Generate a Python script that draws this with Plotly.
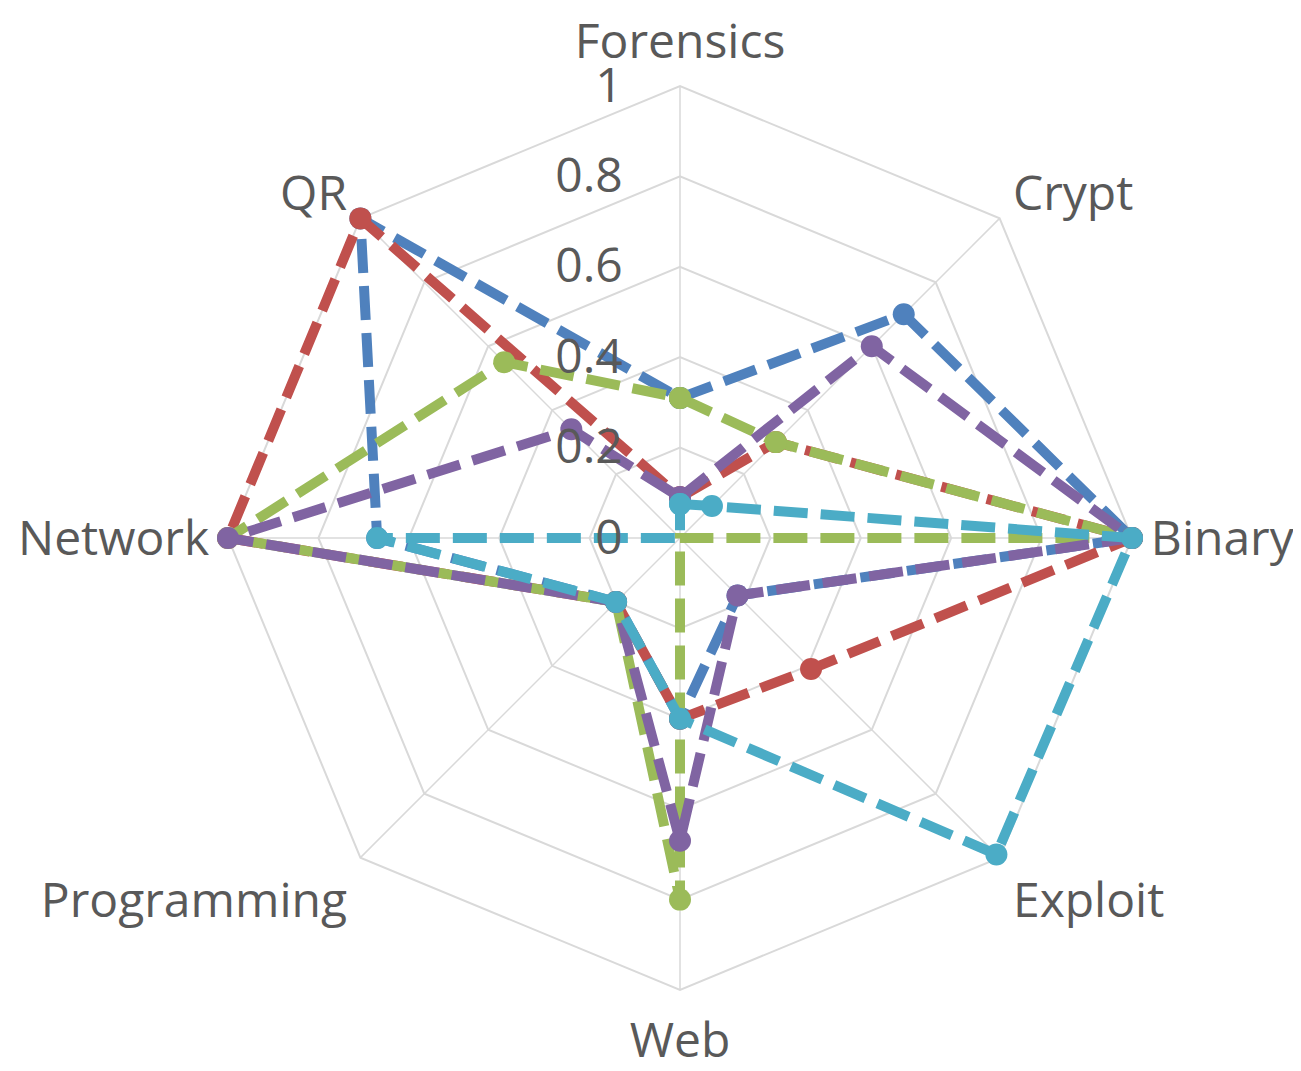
import plotly.graph_objects as go

categories = ["Forensics", "Crypt", "Binary", "Exploit", "Web", "Programming", "Network", "QR"]

series_blue = [0.31, 0.70, 1.0, 0.18, 0.40, 0.20, 0.67, 1.0]
series_red = [0.09, 0.30, 1.0, 0.41, 0.40, 0.20, 1.0, 1.0]
series_green = [0.31, 0.30, 1.0, 0.0, 0.80, 0.20, 1.0, 0.55]
series_purple = [0.09, 0.60, 1.0, 0.18, 0.67, 0.20, 1.0, 0.34]
series_cyan = [0.075, 0.10, 1.0, 0.99, 0.40, 0.20, 0.67, 0.0]

radial_ticks = [0, 0.2, 0.4, 0.6, 0.8, 1]
radial_tick_text = ["0", "0.2", "0.4", "0.6", "0.8", "1"]

colors = ["#4F81BD", "#C0504D", "#9BBB59", "#8064A2", "#4BACC6"]
all_series = [series_blue, series_red, series_green, series_purple, series_cyan]

GRID = "#D9D9D9"
fig = go.Figure()

# spokes from centre to the outer gridline for each category
r_max = radial_ticks[-1]
for cat in categories:
    fig.add_trace(go.Scatterpolar(
        r=[0, r_max], theta=[cat, cat], mode="lines",
        line=dict(color=GRID, width=1.5),
        showlegend=False, hoverinfo="skip",
    ))

for vals, col in zip(all_series, colors):
    fig.add_trace(go.Scatterpolar(
        r=vals + [vals[0]],
        theta=categories + [categories[0]],
        mode="lines+markers",
        line=dict(color=col, width=10, dash="34px,13px"),
        marker=dict(color=col, size=22, symbol="circle"),
        cliponaxis=False,
        showlegend=False,
        hoverinfo="skip",
    ))

W, H = 1301, 1071
cx, cy, R_px = 672, 530, 452
RANGE_MAX = 1.015
Rd = R_px * RANGE_MAX
fig.update_layout(
    width=W, height=H,
    margin=dict(l=0, r=0, t=0, b=0),
    paper_bgcolor="white",
    plot_bgcolor="white",
    font=dict(family="Open Sans", size=48, color="#595959"),
    polar=dict(
        domain=dict(x=[(cx - Rd) / W, (cx + Rd) / W], y=[(H - cy - Rd) / H, (H - cy + Rd) / H]),
        bgcolor="white",
        gridshape="linear",
        radialaxis=dict(
            range=[0, RANGE_MAX],
            tickvals=radial_ticks,
            ticktext=radial_tick_text,
            angle=90,
            tickangle=90,
            side="counterclockwise",
            showline=False,
            gridcolor=GRID,
            gridwidth=1.5,
            ticks="outside",
            ticklen=40,
            tickcolor="rgba(0,0,0,0)",
            tickfont=dict(family="Open Sans", size=48, color="#595959"),
        ),
        angularaxis=dict(
            rotation=90,
            direction="clockwise",
            categoryarray=categories,
            categoryorder="array",
            showgrid=False,
            showline=False,
            ticks="outside",
            ticklen=2,
            tickcolor="rgba(0,0,0,0)",
            tickfont=dict(family="Open Sans", size=48, color="#595959"),
        ),
    ),
)

fig.write_html("out.html")
